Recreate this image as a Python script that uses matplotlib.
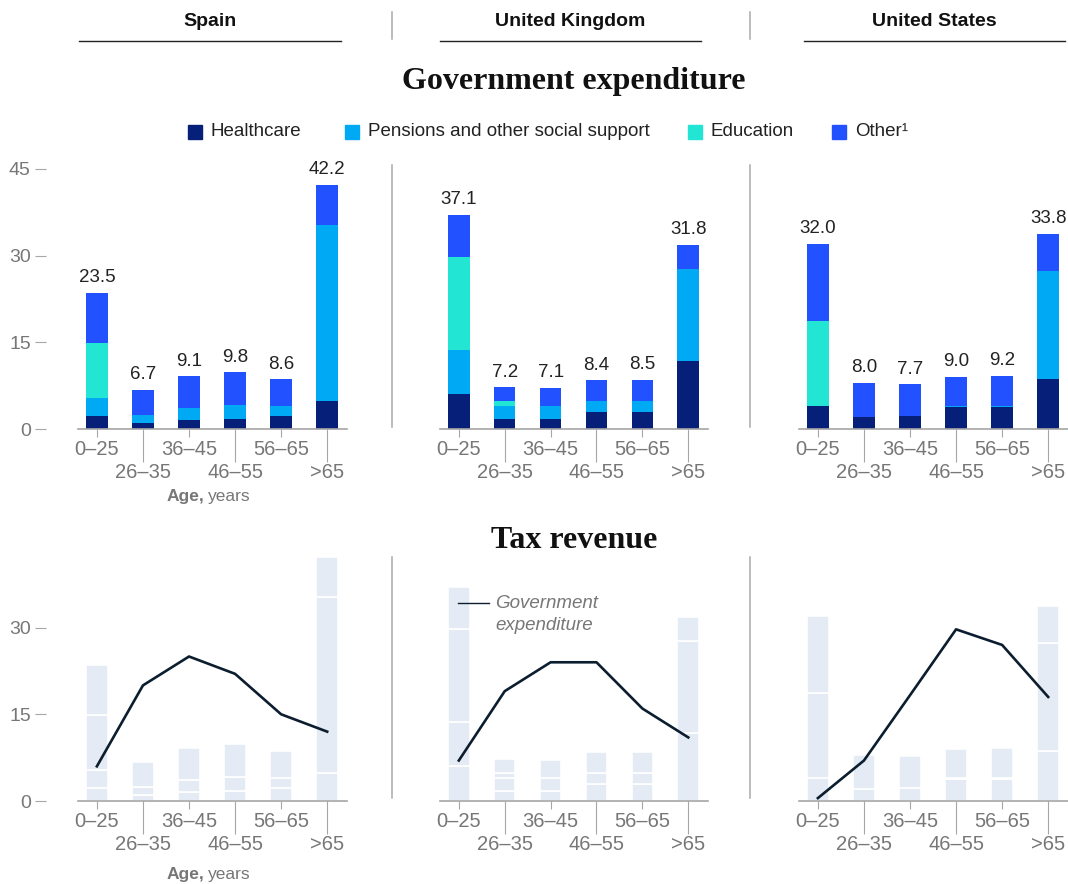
import numpy as np
import matplotlib
matplotlib.use("Agg")
import matplotlib.pyplot as plt
from matplotlib.patches import Rectangle
from matplotlib.lines import Line2D

plt.rcParams['font.family'] = ['Liberation Sans', 'DejaVu Sans']

ages = ["0–25", "26–35", "36–45", "46–55", "56–65", ">65"]
countries = ["Spain", "United Kingdom", "United States"]

# expenditure per person by age band, thousand
spain_total = [23.5, 6.7, 9.1, 9.8, 8.6, 42.2]
spain_health = [2.2, 1.0, 1.5, 1.8, 2.2, 4.9]
spain_pensions = [3.1, 1.5, 2.1, 2.3, 1.7, 30.4]
spain_education = [9.5, 0.0, 0.0, 0.0, 0.0, 0.0]

uk_total = [37.1, 7.2, 7.1, 8.4, 8.5, 31.8]
uk_health = [6.0, 1.8, 1.8, 2.9, 2.9, 11.8]
uk_pensions = [7.7, 2.1, 2.1, 1.9, 1.9, 15.9]
uk_education = [16.1, 0.9, 0.0, 0.0, 0.0, 0.0]

us_total = [32.0, 8.0, 7.7, 9.0, 9.2, 33.8]
us_health = [3.9, 2.0, 2.2, 3.8, 3.8, 8.7]
us_pensions = [0.0, 0.1, 0.1, 0.1, 0.1, 18.7]
us_education = [14.8, 0.0, 0.0, 0.0, 0.0, 0.0]

# tax revenue per person by age band, thousand
spain_tax = [6.0, 20.0, 25.0, 22.0, 15.0, 12.0]
uk_tax = [7.0, 19.0, 24.0, 24.0, 16.0, 11.0]
us_tax = [0.5, 7.0, 18.3, 29.7, 27.0, 18.0]

segment_names = ["Healthcare", "Pensions and other social support", "Education", "Other¹"]
segment_colors = ["#061f79", "#00a9f4", "#22e5d4", "#2251ff"]
ghost_color = "#e4ebf4"
line_color = "#0b1d2e"
grey_text = "#777777"
axis_grey = "#a6a6a6"

data = [
    (spain_total, spain_health, spain_pensions, spain_education, spain_tax),
    (uk_total, uk_health, uk_pensions, uk_education, uk_tax),
    (us_total, us_health, us_pensions, us_education, us_tax),
]

W, H = 1068, 884
fig = plt.figure(figsize=(W / 100, H / 100), dpi=100)

panel_x = [(78, 347), (440, 708), (799, 1068)]
top_base, top_ylim = 429, 47
bot_base, bot_ylim = 801, 43.5
px_per_unit = 5.78


def add_px_axes(x0, x1, base, ymax):
    top = base - ymax * px_per_unit
    return fig.add_axes([x0 / W, 1 - base / H, (x1 - x0) / W, (base - top) / H])


def style_axis(ax, ymax, yticks):
    ax.set_xlim(-0.41, 5.43)
    ax.set_ylim(0, ymax)
    for s in ["top", "right", "left"]:
        ax.spines[s].set_visible(False)
    ax.spines["bottom"].set_color(axis_grey)
    ax.spines["bottom"].set_linewidth(1.2)
    ax.set_xticks(range(len(ages)))
    ax.tick_params(axis="x", length=0, labelbottom=False, colors=axis_grey, width=0.8)
    # short ticks for the upper label row, long ones for the lower row
    for i, tick in enumerate(ax.xaxis.get_major_ticks()):
        tick.tick1line.set_markersize(6 if i % 2 == 0 else 24)
        tick.tick1line.set_markeredgewidth(0.8)
    for i, lab in enumerate(ages):
        off = -15 if i % 2 == 0 else -31.5
        ax.annotate(lab, xy=(i, 0), xycoords=ax.get_xaxis_transform(),
                    xytext=(0, off), textcoords="offset points",
                    ha="center", va="center", fontsize=14.5, color=grey_text,
                    annotation_clip=False)
    if yticks:
        ax.spines["left"].set_position(("outward", 23))
        ax.set_yticks(yticks)
        ax.tick_params(axis="y", length=8, width=0.8, color=axis_grey, pad=3,
                       labelsize=14, labelcolor=grey_text)
    else:
        ax.set_yticks([])


def stacked(ax, total, health, pensions, education, colors, edge=None):
    x = np.arange(len(ages))
    other = [t - h - p - e for t, h, p, e in zip(total, health, pensions, education)]
    bottom = np.zeros(len(ages))
    for vals, c in zip([health, pensions, education, other], colors):
        ax.bar(x, vals, width=0.47, bottom=bottom, color=c,
               edgecolor=edge if edge else c, linewidth=1.2 if edge else 0)
        bottom += np.array(vals)


for k, (x0, x1) in enumerate(panel_x):
    total, health, pensions, education, tax = data[k]

    # government expenditure
    ax = add_px_axes(x0, x1, top_base, top_ylim)
    style_axis(ax, top_ylim, [0, 15, 30, 45] if k == 0 else None)
    stacked(ax, total, health, pensions, education, segment_colors)
    for i, t in enumerate(total):
        ax.annotate(f"{t:.1f}", xy=(i, t), xytext=(0, 11), textcoords="offset points",
                    ha="center", va="center", fontsize=13.5, color="#222222")

    # tax revenue over faded expenditure
    ax2 = add_px_axes(x0, x1, bot_base, bot_ylim)
    style_axis(ax2, bot_ylim, [0, 15, 30] if k == 0 else None)
    stacked(ax2, total, health, pensions, education, [ghost_color] * 4, edge="white")
    ax2.plot(range(len(ages)), tax, color=line_color, lw=1.9, solid_joinstyle="round")

# inline key for the line in the UK panel
fig.add_artist(Line2D([458 / W, 489 / W], [1 - 603 / H, 1 - 603 / H], color=line_color, lw=1))
fig.text(495 / W, 1 - 603 / H, "Government", style="italic", fontsize=13.5,
         color=grey_text, va="center")
fig.text(495 / W, 1 - 626 / H, "expenditure", style="italic", fontsize=13.5,
         color=grey_text, va="center")

# country headers
header_lines = [(79, 341), (440, 701), (804, 1065)]
for name, (a, b) in zip(countries, header_lines):
    fig.text((a + b) / 2 / W, 1 - 22 / H, name, ha="center", va="center",
             fontsize=14, fontweight="bold", color="#111111")
    fig.add_artist(Line2D([a / W, b / W], [1 - 41 / H, 1 - 41 / H], color="#222222", lw=1))

# panel separators
for xs in [392, 750]:
    for y0, y1 in [(12, 39), (165, 427), (557, 798)]:
        fig.add_artist(Line2D([xs / W, xs / W], [1 - y0 / H, 1 - y1 / H], color="#a9a9a9", lw=1.1))

# section titles
fig.text(574 / W, 1 - 82 / H, "Government expenditure", ha="center", va="center",
         fontsize=23, fontweight="bold", family="Liberation Serif", color="#111111")
fig.text(574 / W, 1 - 541 / H, "Tax revenue", ha="center", va="center",
         fontsize=23, fontweight="bold", family="Liberation Serif", color="#111111")

# legend
legend_x = [188, 345, 688, 832]
for lx, name, c in zip(legend_x, segment_names, segment_colors):
    fig.add_artist(Rectangle((lx / W, 1 - 139 / H), 14 / W, 14 / H, color=c,
                             transform=fig.transFigure))
    fig.text((lx + 23) / W, 1 - 132 / H, name, va="center", fontsize=13.5, color="#222222")

# axis titles
for yy in [497, 875]:
    fig.text(204 / W, 1 - yy / H, "Age,", ha="right", va="center", fontsize=12.5,
             fontweight="bold", color=grey_text)
    fig.text(208 / W, 1 - yy / H, "years", ha="left", va="center", fontsize=12.5,
             color=grey_text)

fig.savefig("out.png", dpi=100)
